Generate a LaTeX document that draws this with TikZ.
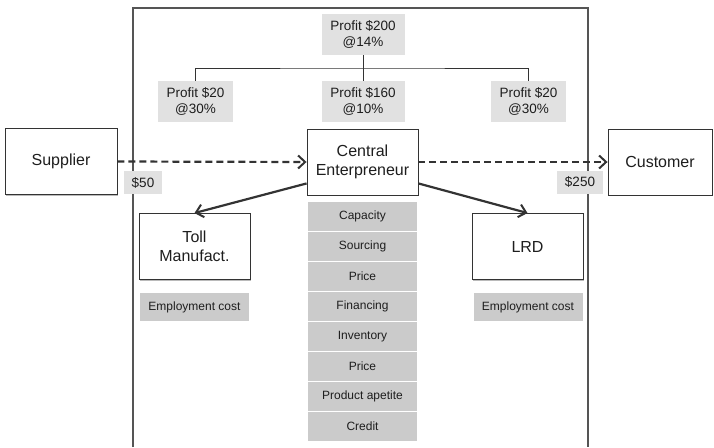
\documentclass[tikz,border=0pt]{standalone}
\usepackage{fontspec}
\setmainfont{Liberation Sans}
\usetikzlibrary{arrows.meta,shadows}
\definecolor{lightbox}{HTML}{E1E1E1}
\definecolor{darkbox}{HTML}{CBCBCB}
\definecolor{lineg}{HTML}{333333}
\definecolor{frameg}{HTML}{555555}
\definecolor{textg}{HTML}{1E1E1E}

\begin{document}
\begin{tikzpicture}[x=1pt,y=-1pt,text=textg,
  mainbox/.style={draw=lineg,fill=white,line width=0.9pt,minimum width=111pt,minimum height=66pt,
    align=center,inner sep=2pt,font=\fontsize{16}{19}\selectfont,
    drop shadow={shadow xshift=1.3pt,shadow yshift=-1.3pt,fill=black!45,opacity=0.6}},
  profitbox/.style={fill=lightbox,minimum width=83pt,minimum height=41pt,align=center,inner sep=1pt,
    font=\fontsize{13.5}{16.5}\selectfont},
  pricebox/.style={fill=lightbox,minimum height=23pt,inner sep=2pt,font=\fontsize{13.5}{16}\selectfont},
  itembox/.style={fill=darkbox,minimum width=109pt,minimum height=29pt,inner sep=1pt,
    font=\fontsize{12}{14}\selectfont},
  flow/.style={line width=2.2pt,lineg,dash pattern=on 7pt off 4pt,
    -{Straight Barb[length=7pt,width=13pt,line width=2pt]}},
  split/.style={line width=2.2pt,lineg,-{Straight Barb[length=7pt,width=13pt,line width=2pt]}}]
\useasboundingbox (0,0) rectangle (714,447);
% frame of the group, open at the bottom
\draw[frameg,line width=1.3pt] (133,447) -- (133,8) -- (588,8) -- (588,447);
% profits
\node[profitbox] (ptop) at (363,34.5) {Profit \$200\\@14\%};
\node[profitbox,minimum width=75pt] (pleft) at (195.5,101.5) {Profit \$20\\@30\%};
\node[profitbox] (pmid) at (363,101.5) {Profit \$160\\@10\%};
\node[profitbox,minimum width=75pt] (pright) at (528.5,101.5) {Profit \$20\\@30\%};
\coordinate (bar) at (363,68);
\draw[lineg,line width=0.8pt] (pleft.north) |- (bar) -| (pright.north);
\draw[lineg,line width=0.8pt] (ptop.south) -- (pmid.north);
% entities
\node[mainbox,minimum width=112pt] (supplier) at (61,161.5) {Supplier};
\node[mainbox] (central) at (362.5,162) {Central\\Enterpreneur};
\node[mainbox,minimum width=104pt] (customer) at (660,162) {Customer};
\node[mainbox] (toll) at (194.5,246.5) {Toll\\Manufact.};
\node[mainbox] (lrd) at (527.5,246.5) {LRD};
% prices
\node[pricebox,minimum width=38pt] (pin) at (143,182.5) {\$50};
\node[pricebox,minimum width=46pt] (pout) at (580,182) {\$250};
% flows
\draw[flow] (supplier.east) -- (central.west);
\draw[flow] (central.east) -- (customer.west);
\draw[split] ([yshift=12pt]central.south west) -- (toll.north);
\draw[split] ([yshift=12pt]central.south east) -- (lrd.north);
% functions
\node[itembox,minimum height=28pt] (costleft) at (194.5,307) {Employment cost};
\node[itembox,minimum height=28pt] (costright) at (528,307) {Employment cost};
\foreach \txt [count=\i] in {Capacity,Sourcing,Price,Financing,Inventory,Price,Product apetite,Credit}
  \node[itembox] (item\i) at (362.5,216.5+30*\i-30) {\txt};
\end{tikzpicture}
\end{document}
